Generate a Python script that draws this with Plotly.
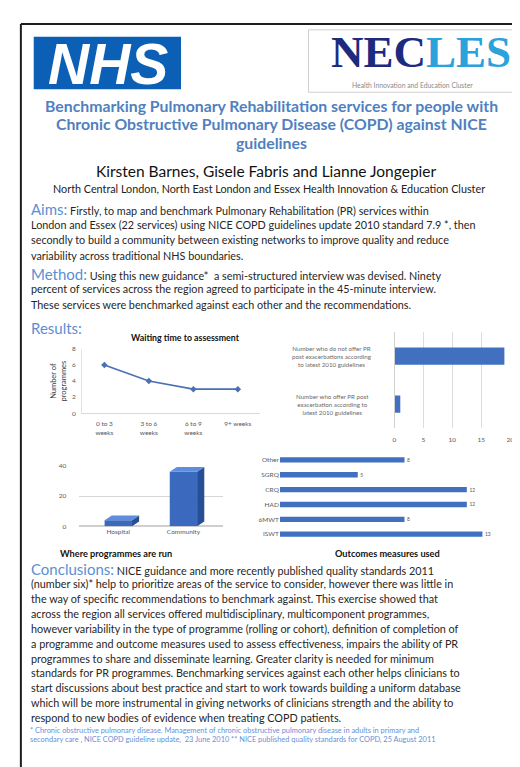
import plotly.graph_objects as go

W, H = 520, 767


def fx(px):
    return px / W


def fy(py):
    return 1 - py / H


# ---------------- data ----------------
wait_cats = ["0 to 3<br>weeks", "3 to 6<br>weeks", "6 to 9<br>weeks", "9+ weeks"]
wait_vals = [6, 4, 3, 3]

pe_cats = [
    "Number who offer PR post<br>exacerbation according to<br>latest 2010 guidelines",
    "Number who do not offer PR<br>post exacerbations according<br>to latest 2010 guidelines",
]
pe_vals = [1, 19]

site_cats = ["Hospital", "Community"]
site_vals = [4, 36]

outcome_cats = ["ISWT", "6MWT", "HAD", "CRQ", "SGRQ", "Other"]
outcome_vals = [13, 8, 12, 12, 5, 8]

title_lines = [
    "Benchmarking Pulmonary Rehabilitation services for people with",
    "Chronic Obstructive Pulmonary Disease (COPD) against NICE",
    "guidelines",
]
aims_lines = [
    "Firstly, to map and benchmark Pulmonary Rehabilitation (PR) services within",
    "London and Essex (22 services) using NICE COPD guidelines update 2010 standard 7.9 *, then",
    "secondly to build a community between existing networks to improve quality and reduce",
    "variability across traditional NHS boundaries.",
]
method_lines = [
    "Using this new guidance*  a semi-structured interview was devised. Ninety",
    "percent of services across the region agreed to participate in the 45-minute interview.",
    "These services were benchmarked against each other and the recommendations.",
]
concl_lines = [
    "NICE guidance and more recently published quality standards 2011",
    "(number six)* help to prioritize areas of the service to consider, however there was little in",
    "the way of specific recommendations to benchmark against. This exercise showed that",
    "across the region all services offered multidisciplinary, multicomponent programmes,",
    "however variability in the type of programme (rolling or cohort), definition of completion of",
    "a programme and outcome measures used to assess effectiveness, impairs the ability of PR",
    "programmes to share and disseminate learning. Greater clarity is needed for minimum",
    "standards for PR programmes. Benchmarking services against each other helps clinicians to",
    "start discussions about best practice and start to work towards building a uniform database",
    "which will be more instrumental in giving networks of clinicians strength and the ability to",
    "respond to new bodies of evidence when treating COPD patients.",
]
foot_lines = [
    "* Chronic obstructive pulmonary disease. Management of chronic obstructive pulmonary disease in adults in primary and",
    "secondary care , NICE COPD guideline update,  23 June 2010 ** NICE published quality standards for COPD, 25 August 2011",
]

FONT = "Lato"
BODY = "#262626"
HEAD = "#5b8fd3"
TICK = "#595959"
BAR = "#4170c0"
BODY_SIZE = 10.8

fig = go.Figure()

# ---- chart 1: waiting time (line) ----
fig.add_trace(go.Scatter(
    x=wait_cats, y=wait_vals, mode="lines+markers",
    line=dict(color="#4a6fb3", width=1.6),
    marker=dict(symbol="diamond", size=5, color="#4a6fb3"),
    xaxis="x", yaxis="y", showlegend=False, hoverinfo="skip"))

# ---- chart 2: post exacerbation ----
fig.add_trace(go.Bar(
    x=pe_vals, y=pe_cats, orientation="h", width=0.36,
    marker=dict(color=BAR, line=dict(width=0)),
    xaxis="x2", yaxis="y2", showlegend=False, hoverinfo="skip"))

# ---- chart 3: where programmes are run (pseudo 3D) ----
bw, dx, dy = 0.42, 0.11, 3.2
site_pos = list(range(len(site_cats)))
fig.add_trace(go.Bar(
    x=site_pos, y=site_vals, width=bw,
    marker=dict(color="#3a69bd", line=dict(width=0)),
    xaxis="x3", yaxis="y3", showlegend=False, hoverinfo="skip"))
for i, v in zip(site_pos, site_vals):
    r = i + bw / 2
    l = i - bw / 2
    fig.add_trace(go.Scatter(
        x=[r, r + dx, r + dx, r, r], y=[0, dy, v + dy, v, 0],
        fill="toself", fillcolor="#284f96", line=dict(width=0),
        mode="lines", xaxis="x3", yaxis="y3", showlegend=False, hoverinfo="skip"))
    fig.add_trace(go.Scatter(
        x=[l, l + dx, r + dx, r, l], y=[v, v + dy, v + dy, v, v],
        fill="toself", fillcolor="#5d8ddb", line=dict(width=0),
        mode="lines", xaxis="x3", yaxis="y3", showlegend=False, hoverinfo="skip"))

# ---- chart 4: outcome measures ----
fig.add_trace(go.Bar(
    x=outcome_vals, y=outcome_cats, orientation="h", width=0.36,
    marker=dict(color=BAR, line=dict(width=0)),
    text=["\u00a0\u00a0" + str(v) for v in outcome_vals], textposition="outside",
    textfont=dict(family=FONT, size=6.5, color=TICK), cliponaxis=False,
    xaxis="x4", yaxis="y4", showlegend=False, hoverinfo="skip"))

tickfont = dict(family=FONT, size=6.5, color=TICK)

fig.update_layout(
    width=W, height=H, margin=dict(l=0, r=0, t=0, b=0),
    paper_bgcolor="white", plot_bgcolor="rgba(0,0,0,0)",
    font=dict(family=FONT, color=BODY),
    xaxis=dict(domain=[fx(73), fx(253)], range=[-0.5, 3.5], anchor="y",
               showline=True, linecolor="#d9d9d9", showgrid=False, ticks="",
               tickfont=tickfont, ticklabelstandoff=4),
    yaxis=dict(domain=[fy(405), fy(340)], range=[0, 8], anchor="x",
               tickvals=[0, 2, 4, 6, 8], showline=True, linecolor="#e3e3e3",
               showgrid=False, zeroline=False, ticks="", tickfont=tickfont,
               ticklabelstandoff=4,
               title=dict(text="Number of<br>programmes", standoff=4,
                          font=dict(family=FONT, size=7.5, color="#404040"))),
    xaxis2=dict(domain=[fx(389), fx(506)], range=[0, 20], anchor="y2",
                tickvals=[0, 5, 10, 15, 20], showgrid=True, gridcolor="#dcdcdc",
                zeroline=False, showline=False, ticks="", tickfont=tickfont,
                ticklabelstandoff=6),
    yaxis2=dict(domain=[fy(420), fy(323)], anchor="x2", showline=True,
                linecolor="#d0d0d0", ticks="", showticklabels=False),
    xaxis3=dict(domain=[fx(70), fx(215)], range=[-0.6, 1.6], anchor="y3",
                tickvals=site_pos, ticktext=site_cats, showgrid=False,
                zeroline=False, showline=False, ticks="", tickfont=tickfont),
    yaxis3=dict(domain=[fy(519), fy(458)], range=[0, 40], anchor="x3",
                tickvals=[0, 20, 40], showgrid=True, gridcolor="#d6d6d6",
                zeroline=True, zerolinecolor="#cfcfcf", ticks="", tickfont=tickfont,
                ticklabelstandoff=12),
    xaxis4=dict(domain=[fx(273), fx(500)], range=[0, 14.4], anchor="y4",
                visible=False),
    yaxis4=dict(domain=[fy(534.5), fy(444.5)], anchor="x4", ticks="",
                showline=False, showgrid=False, tickfont=tickfont),
)

shapes = [
    dict(type="line", xref="paper", yref="paper", x0=fx(11), x1=fx(530),
         y0=fy(12), y1=fy(12), line=dict(color="#1e1e1e", width=2)),
    dict(type="line", xref="paper", yref="paper", x0=fx(11), x1=fx(11),
         y0=fy(12), y1=fy(780), line=dict(color="#1e1e1e", width=2)),
    dict(type="rect", xref="paper", yref="paper", x0=fx(24), x1=fx(173),
         y0=fy(78), y1=fy(25), fillcolor="#0b60b6", line=dict(width=0)),
    dict(type="rect", xref="paper", yref="paper", x0=fx(302), x1=fx(530),
         y0=fy(81), y1=fy(18), fillcolor="white",
         line=dict(color="#cfcfcf", width=1)),
]

ann = []


def text(x, y, s, size, color=BODY, anchor="left", family=FONT, height=None):
    a = dict(xref="paper", yref="paper", x=fx(x), y=fy(y), text=s,
             showarrow=False, xanchor=anchor, yanchor="middle",
             font=dict(family=family, size=size, color=color))
    if height:
        a["height"] = height
    ann.append(a)


# logos
text(99, 52, "<b><i>NHS</i></b>", 57, "white", "center", "Liberation Sans")
text(416, 40, '<b><span style="color:#1d2b7f">NEC</span>'
     '<span style="color:#2aa2dc">LES</span></b>', 45, "#1d2b7f", "center",
     "Liberation Serif", height=34)
text(407, 74, "Health Innovation and Education Cluster", 6.8, "#8a8a8a", "center")

# title block
for yy, s in zip([94, 113, 132], title_lines):
    text(265, yy, "<b>" + s + "</b>", 15.8, "#4f80c0", "center")
text(259, 160, "Kirsten Barnes, Gisele Fabris and Lianne Jongepier", 15.5,
     "#111111", "center")
text(262, 178, "North Central London, North East London and Essex Health Innovation &amp; Education Cluster",
     10.8, "#222222", "center")

# aims / method
LS = 15.5
y0 = 199
text(19, y0, '<span style="color:%s;font-size:15px">Aims:</span> %s' % (HEAD, aims_lines[0]), BODY_SIZE)
for k, s in enumerate(aims_lines[1:], 1):
    text(19, y0 + k * LS, s, BODY_SIZE)
y1 = y0 + 4 * LS + 3
text(19, y1, '<span style="color:%s;font-size:15px">Method:</span> %s' % (HEAD, method_lines[0]), BODY_SIZE)
for k, s in enumerate(method_lines[1:], 1):
    text(19, y1 + k * LS, s, BODY_SIZE)
text(19, 319, "Results:", 15, HEAD)

# chart titles
text(120, 328, "<b>Waiting time to assessment</b>", 8.8, "#111111")
text(107, 546, "<b>Where programmes are run</b>", 9.2, "#111111", "center")
text(382, 546, "<b>Outcomes measures used</b>", 9.2, "#111111", "center")

# category labels for the post-exacerbation chart, centred like the original
for c in pe_cats:
    ann.append(dict(xref="paper", yref="y2", x=fx(326), y=c, text=c,
                    showarrow=False, xanchor="center", yanchor="middle",
                    align="center", font=dict(family=FONT, size=6.2, color="#6a6a6a")))

# conclusions
yc = 562
text(19, yc, '<span style="color:%s;font-size:15px">Conclusions:</span> %s' % (HEAD, concl_lines[0]), BODY_SIZE)
for k, s in enumerate(concl_lines[1:], 1):
    text(19, yc + k * 15, s, BODY_SIZE)
for k, s in enumerate(foot_lines):
    text(18, 725 + k * 9, s, 7.4, "#6a8fd6")

fig.update_layout(shapes=shapes, annotations=ann)
fig.write_html("out.html")
